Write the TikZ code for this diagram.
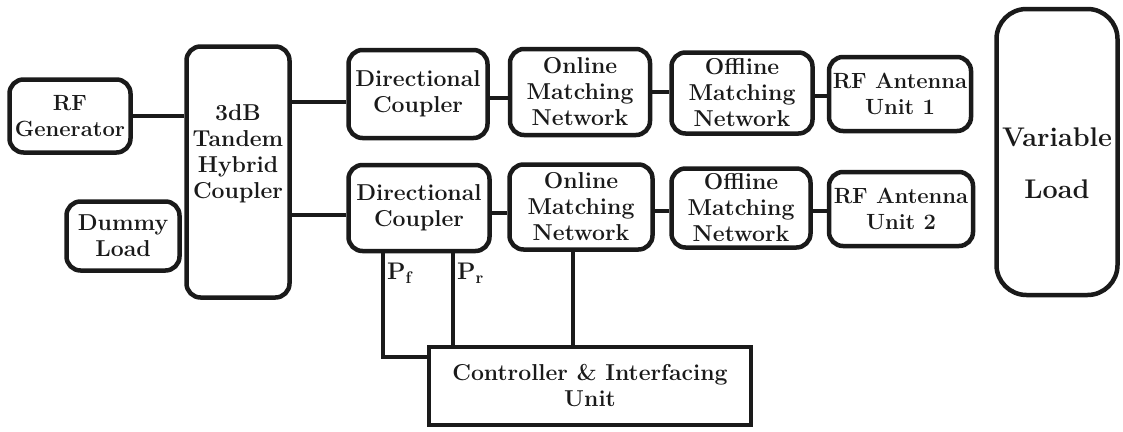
\documentclass[tikz,border=0pt]{standalone}
\usepackage{fontspec}
\usetikzlibrary{positioning}

\definecolor{ink}{HTML}{1A1A1A}

\tikzset{
    blk/.style={draw=ink, line width=4.5pt, rounded corners=14pt, align=center,
        inner sep=0pt, text=ink, font=\fontsize{23}{26}\selectfont\bfseries},
    tighttxt/.style={font=\fontsize{22}{26}\selectfont\bfseries},
    wire/.style={draw=ink, line width=4.5pt},
    sig/.style={text=ink, inner sep=1pt, font=\fontsize{24}{24}\selectfont\bfseries},
}

\begin{document}
\begin{tikzpicture}[x=1pt, y=-1pt]
    \useasboundingbox (0, 0) rectangle (1123, 431);

    \node[blk, tighttxt, minimum width=121pt, minimum height=73pt] (gen) at (70, 116) {RF\\Generator};
    \node[blk, minimum width=103pt, minimum height=251pt] (hyb) at (238, 172) {3dB\\Tandem\\Hybrid\\Coupler\\[14pt]};
    \node[blk, minimum width=113pt, minimum height=69pt] (dummy) at (123, 236) {Dummy\\Load};

    % upper branch
    \node[blk, minimum width=139pt, minimum height=88pt] (dc1) at (418, 94) {Directional\\Coupler};
    \node[blk, minimum width=140pt, minimum height=86pt] (omn1) at (580, 92) {Online\\Matching\\Network};
    \node[blk, minimum width=141pt, minimum height=81pt] (off1) at (742, 93) {Offline\\Matching\\Network};
    \node[blk, tighttxt, minimum width=142pt, minimum height=74pt] (ant1) at (900, 94) {RF Antenna\\Unit 1};

    % lower branch
    \node[blk, minimum width=141pt, minimum height=86pt] (dc2) at (419, 208) {Directional\\Coupler};
    \node[blk, minimum width=143pt, minimum height=85pt] (omn2) at (581, 207) {Online\\Matching\\Network};
    \node[blk, minimum width=139pt, minimum height=79pt] (off2) at (741, 208) {Offline\\Matching\\Network};
    \node[blk, tighttxt, minimum width=144pt, minimum height=74pt] (ant2) at (901, 209) {RF Antenna\\Unit 2};

    \node[blk, rounded corners=30pt, minimum width=121pt, minimum height=286pt,
        label={[name=loadtxt, yshift=-11pt, align=center, text=ink,
            font=\fontsize{27}{52}\selectfont\bfseries]center:Variable\\Load}] (load) at (1057, 152) {};

    \node[blk, rounded corners=0pt, minimum width=322pt, minimum height=78pt] (ctrl) at (590, 386)
        {Controller \& Interfacing\\Unit};

    % connections
    \draw[wire] (gen.east) -- (gen.east -| hyb.west);
    \draw[wire] ([yshift=-8pt]dc1.west) -- ([yshift=-8pt]dc1.west -| hyb.east);
    \draw[wire] ([yshift=-7pt]dc2.west) -- ([yshift=-7pt]dc2.west -| hyb.east);
    \draw[wire] ([yshift=-4pt]dc1.east) -- ([yshift=-4pt]dc1.east -| omn1.west);
    \draw[wire] ([yshift=-5pt]dc2.east) -- ([yshift=-5pt]dc2.east -| omn2.west);
    \draw[wire] (omn1.east) -- (omn1.east -| off1.west);
    \draw[wire] ([yshift=-4pt]omn2.east) -- ([yshift=-4pt]omn2.east -| off2.west);
    \draw[wire] ([yshift=-3pt]off1.east) -- ([yshift=-3pt]off1.east -| ant1.west);
    \draw[wire] ([yshift=-3pt]off2.east) -- ([yshift=-3pt]off2.east -| ant2.west);

    % sensing lines to the controller
    \draw[wire] ([xshift=-36pt]dc2.south) |- ([yshift=-12pt]ctrl.north west);
    \draw[wire] ([xshift=34pt]dc2.south) -- ([xshift=34pt]dc2.south |- ctrl.north);
    \draw[wire] ([xshift=-8pt]omn2.south) -- ([xshift=-8pt]omn2.south |- ctrl.north);
    \node[sig, anchor=north west] (pf) at ([xshift=-33pt, yshift=-9pt]dc2.south) {P\textsubscript{f}};
    \node[sig, anchor=north west] (pr) at ([xshift=37pt, yshift=-9pt]dc2.south) {P\textsubscript{r}};
\end{tikzpicture}
\end{document}
